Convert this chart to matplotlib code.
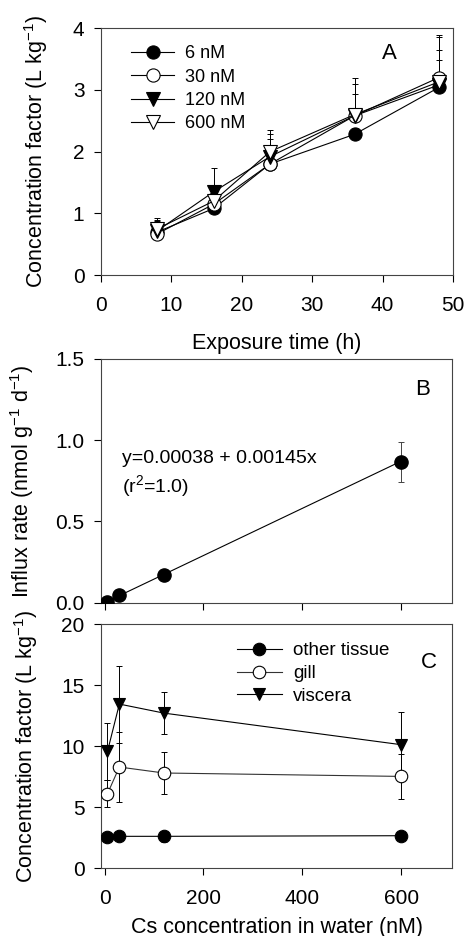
import matplotlib
matplotlib.use('Agg')
import matplotlib.pyplot as plt

plt.rcParams['font.family'] = ['Liberation Sans', 'DejaVu Sans']
plt.rcParams['mathtext.fontset'] = 'custom'
plt.rcParams['mathtext.rm'] = 'Liberation Sans'
plt.rcParams['mathtext.it'] = 'Liberation Sans'

# ---- panel A: concentration factor vs exposure time ----
time_h = [8, 16, 24, 36, 48]
cf_6nM = [0.70, 1.08, 1.80, 2.28, 3.04]
cf_30nM = [0.67, 1.15, 1.80, 2.58, 3.20]
cf_120nM = [0.72, 1.35, 1.92, 2.58, 3.08]
cf_600nM = [0.75, 1.20, 2.00, 2.60, 3.13]
up_6nM = [0.12, 0.05, 0.30, 0.10, 0.45]
up_30nM = [0.23, 0.10, 0.40, 0.35, 0.69]
up_120nM = [0.16, 0.38, 0.36, 0.52, 0.57]
up_600nM = [0.17, 0.12, 0.35, 0.59, 0.72]
labels_A = ['6 nM', '30 nM', '120 nM', '600 nM']

# ---- panel B: influx rate vs Cs concentration ----
cs_nM = [6, 30, 120, 600]
influx = [0.006, 0.047, 0.17, 0.865]
influx_err = [0.01, 0.01, 0.03, 0.123]
fit_intercept = 0.00038
fit_slope = 0.00145
fit_x = [6, 600]

# ---- panel C: tissue concentration factor vs Cs concentration ----
cf_other = [2.51, 2.60, 2.60, 2.65]
cf_other_err = [0.2, 0.2, 0.45, 0.2]
cf_gill = [6.09, 8.28, 7.79, 7.51]
cf_gill_err = [1.09, 2.87, 1.70, 1.85]
cf_visc = [9.56, 13.44, 12.70, 10.11]
cf_visc_err = [2.32, 3.16, 1.73, 2.68]
labels_C = ['other tissue', 'gill', 'viscera']

fig = plt.figure(figsize=(4.7, 9.36), dpi=100)
axA = fig.add_axes([0.215, 0.706, 0.749, 0.264])
axB = fig.add_axes([0.215, 0.356, 0.747, 0.2607])
axC = fig.add_axes([0.215, 0.0726, 0.747, 0.2607])

FS_TICK = 15
FS_LAB = 15.5
ms = 9.5


def style(ax):
    for s in ax.spines.values():
        s.set_linewidth(0.8)
        s.set_color('#444444')
    ax.tick_params(direction='out', length=5, width=0.8, labelsize=FS_TICK,
                   top=False, right=False)
    ax.tick_params(axis='x', pad=10)
    ax.tick_params(axis='y', pad=7)


# panel A
styles_A = [('o', 'black'), ('o', 'white'), ('v', 'black'), ('v', 'white')]
series_A = [cf_6nM, cf_30nM, cf_120nM, cf_600nM]
ups_A = [up_6nM, up_30nM, up_120nM, up_600nM]
for ys, up in zip(series_A, ups_A):
    axA.errorbar(time_h, ys, yerr=[[0] * len(up), up], fmt='none',
                 ecolor='black', elinewidth=0.7, capsize=2.5, capthick=0.7, zorder=1)
for ys, (m, fc), lab in zip(series_A, styles_A, labels_A):
    axA.plot(time_h, ys, marker=m, ms=ms, mfc=fc, mec='black', mew=0.8,
             color='black', lw=0.8, label=lab, zorder=3)
axA.set_xlim(0, 50)
axA.set_ylim(0, 4)
axA.set_yticks([0, 1, 2, 3, 4])
style(axA)
axA.set_xlabel('Exposure time (h)', fontsize=FS_LAB)
axA.set_ylabel('Concentration factor (L kg$^{-1}$)', fontsize=FS_LAB)
axA.xaxis.set_label_coords(0.5, -0.232)
axA.yaxis.set_label_coords(-0.145, 0.5)
axA.legend(loc='upper left', bbox_to_anchor=(0.085, 0.93), frameon=False,
           fontsize=13, borderpad=0, borderaxespad=0, handlelength=2.4,
           handletextpad=0.6, labelspacing=0.35)
axA.text(0.818, 0.899, 'A', transform=axA.transAxes, fontsize=16,
         ha='center', va='center')

# panel B
fit_y = [fit_intercept + fit_slope * x for x in fit_x]
axB.plot(fit_x, fit_y, color='black', lw=0.8, zorder=2)
axB.errorbar(cs_nM, influx, yerr=influx_err, fmt='none', ecolor='#444444',
             elinewidth=0.7, capsize=2.5, capthick=0.7, zorder=1)
axB.plot(cs_nM, influx, 'o', ms=ms, color='black', mec='black', zorder=3)
axB.set_xlim(-7, 703)
axB.set_ylim(0, 1.5)
axB.set_xticks([0, 200, 400, 600])
axB.set_xticklabels([])
axB.set_yticks([0, 0.5, 1.0, 1.5])
axB.set_yticklabels(['0.0', '0.5', '1.0', '1.5'])
style(axB)
axB.set_ylabel('Influx rate (nmol g$^{-1}$ d$^{-1}$)', fontsize=FS_LAB)
axB.yaxis.set_label_coords(-0.186, 0.5)
axB.text(0.06, 0.526, 'y=0.00038 + 0.00145x\n(r$^2$=1.0)', transform=axB.transAxes,
         fontsize=14, ha='left', va='center', linespacing=1.3)
axB.text(0.917, 0.873, 'B', transform=axB.transAxes, fontsize=16,
         ha='center', va='center')

# panel C
series_C = [(cf_other, cf_other_err, 'o', 'black', 'black'),
            (cf_gill, cf_gill_err, 'o', 'white', '#333333'),
            (cf_visc, cf_visc_err, 'v', 'black', 'black')]
for ys, err, m, fc, lc in series_C:
    axC.errorbar(cs_nM, ys, yerr=err, fmt='none', ecolor='black',
                 elinewidth=0.7, capsize=2.5, capthick=0.7, zorder=1)
for (ys, err, m, fc, lc), lab in zip(series_C, labels_C):
    axC.plot(cs_nM, ys, marker=m, ms=ms - 0.5, mfc=fc, mec='black', mew=0.8,
             color=lc, lw=0.8, label=lab, zorder=3)
axC.set_xlim(-7, 703)
axC.set_ylim(0, 20)
axC.set_xticks([0, 200, 400, 600])
axC.set_yticks([0, 5, 10, 15, 20])
style(axC)
axC.set_xlabel('Cs concentration in water (nM)', fontsize=FS_LAB)
axC.set_ylabel('Concentration factor (L kg$^{-1}$)', fontsize=FS_LAB)
axC.xaxis.set_label_coords(0.5, -0.2)
axC.yaxis.set_label_coords(-0.175, 0.5)
axC.legend(loc='upper left', bbox_to_anchor=(0.387, 0.925), frameon=False,
           fontsize=13.5, borderpad=0, borderaxespad=0, handlelength=2.4,
           handletextpad=0.6, labelspacing=0.3)
axC.text(0.934, 0.844, 'C', transform=axC.transAxes, fontsize=16,
         ha='center', va='center')

fig.savefig('out.png', dpi=100)
